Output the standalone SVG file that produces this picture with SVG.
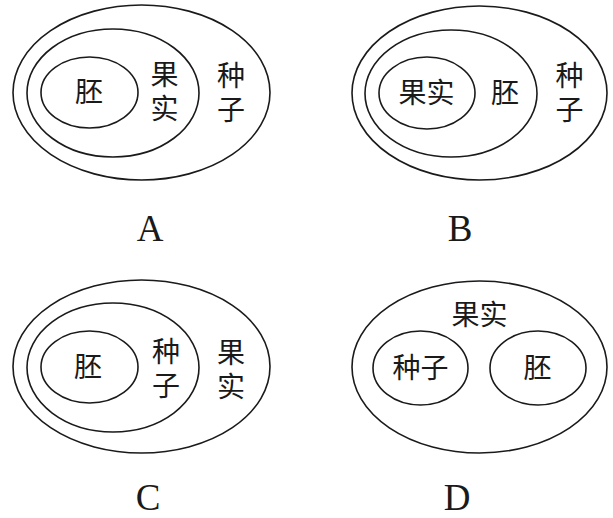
<svg xmlns="http://www.w3.org/2000/svg" width="613" height="518" viewBox="0 0 613 518">
<style>
ellipse{fill:none;stroke:#1a1a1a;stroke-width:1.6}
.t{font-family:"Noto Sans CJK SC","Noto Sans CJK JP",sans-serif;font-size:28px;fill:#1a1a1a;text-anchor:middle;dominant-baseline:central}
.v{font-family:"Noto Sans CJK SC","Noto Sans CJK JP",sans-serif;font-size:28px;fill:#1a1a1a;text-anchor:middle;writing-mode:vertical-rl;letter-spacing:6px}
.l{font-family:"Liberation Serif",serif;font-size:37px;fill:#1a1a1a;text-anchor:middle}
</style>
<rect width="613" height="518" fill="#fff"/>
<g id="connectors"/>
<g id="A">
<ellipse cx="141.5" cy="92.5" rx="128.5" ry="87.5"/>
<ellipse cx="113" cy="93" rx="86" ry="64"/>
<ellipse cx="89.5" cy="92.5" rx="48.5" ry="35.5"/>
<text class="t" x="89" y="90">胚</text>
<text class="v" x="164.5" y="94">果实</text>
<text class="v" x="231" y="95">种子</text>
<text class="l" x="150" y="241">A</text>
</g>
<g id="B">
<ellipse cx="479.5" cy="93" rx="127.5" ry="87"/>
<ellipse cx="451" cy="93.5" rx="86" ry="63.5"/>
<ellipse cx="427" cy="93" rx="48" ry="36"/>
<text class="t" x="426.5" y="91">果实</text>
<text class="t" x="505" y="91">胚</text>
<text class="v" x="569.5" y="95">种子</text>
<text class="l" x="460" y="241">B</text>
</g>
<g id="C">
<ellipse cx="141.5" cy="366.5" rx="128.5" ry="86.5"/>
<ellipse cx="113" cy="367.5" rx="86" ry="64.5"/>
<ellipse cx="89.5" cy="367" rx="48.5" ry="36"/>
<text class="t" x="88" y="365">胚</text>
<text class="v" x="166" y="371">种子</text>
<text class="v" x="231" y="372.5">果实</text>
<text class="l" x="148" y="510">C</text>
</g>
<g id="D">
<ellipse cx="479.5" cy="367" rx="127.5" ry="86"/>
<ellipse cx="420.5" cy="368" rx="47.5" ry="37"/>
<ellipse cx="538" cy="368" rx="48" ry="37"/>
<text class="t" x="479.5" y="313">果实</text>
<text class="t" x="420.5" y="366">种子</text>
<text class="t" x="537.5" y="366">胚</text>
<text class="l" x="457" y="510">D</text>
</g>
</svg>
